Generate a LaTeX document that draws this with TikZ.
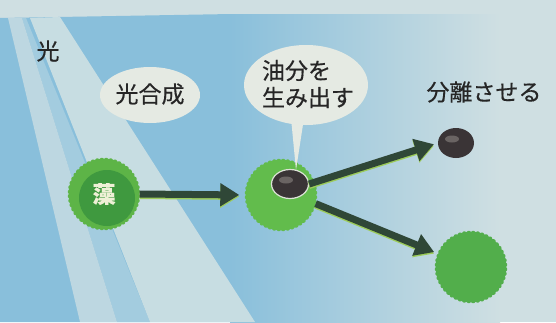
\documentclass[tikz,border=0pt]{standalone}
\usepackage{fontspec}
\newfontfamily\jpfont[FakeBold=0.4]{Noto Sans CJK JP}
\usetikzlibrary{shapes.geometric,arrows.meta}

\definecolor{paper}{HTML}{CFDFE2}
\definecolor{fieldblue}{HTML}{89BFDB}
\definecolor{beamA}{HTML}{BDD7E1}
\definecolor{beamB}{HTML}{C7DDE2}
\definecolor{beamgap}{HTML}{A3CCDF}
\definecolor{bubblefill}{HTML}{E5EAE3}
\definecolor{inkdark}{HTML}{262626}
\definecolor{arrowgreen}{HTML}{2F4737}
\definecolor{arrowlime}{HTML}{9CCB5A}
\definecolor{ringgreen}{HTML}{5DB447}
\definecolor{coregreen}{HTML}{3F993F}
\definecolor{cellgreen}{HTML}{62BC4C}
\definecolor{plaingreen}{HTML}{52AE4B}
\definecolor{oil}{HTML}{3A3436}
\definecolor{oilshine}{HTML}{77716F}
\definecolor{oilrim}{HTML}{DCE3D6}
\definecolor{glyphcream}{HTML}{EEF0D6}

\tikzset{
  jp/.style={font=\jpfont\fontsize{23}{27}\selectfont, text=inkdark, inner sep=0pt},
  bubble/.style={ellipse, fill=bubblefill, inner sep=0pt},
  blob/.style={circle, minimum size=71pt, inner sep=0pt},
  % scalloped disc filled around a blob node
  scallop/.style={shift={(#1.center)}},
  droplet/.style={ellipse, fill=oil, inner sep=0pt,
    path picture={\fill[oilshine, opacity=0.8]
      ([xshift=-4pt,yshift=4pt]path picture bounding box.center) ellipse (7pt and 3.5pt);}},
  flowhead/.style={-{Triangle[width=22pt,length=19pt]}},
  flow/.style={draw=arrowgreen, line width=7pt, flowhead,
    preaction={draw=arrowlime, line width=7pt, flowhead, transform canvas={yshift=-1.5pt}}},
}

\begin{document}
\begin{tikzpicture}[x=1pt,y=-1pt]
  \useasboundingbox (0,0) rectangle (556,322);

  % paper, blue field fading to the right, two pale light beams
  \fill[paper] (0,0) rectangle (556,322);
  \fill[fieldblue] (0,18) -- (232,14) -- (232,322) -- (0,322) -- cycle;
  \shade[left color=fieldblue, right color=paper] (230,14) rectangle (500,322);
  \fill[beamgap] (22,18) -- (26,18) -- (150,322) -- (117,322) -- cycle;
  \fill[beamA] (8,18) -- (22,18) -- (117,322) -- (80,322) -- cycle;
  \fill[beamB] (30,18) -- (60,17) -- (255,322) -- (150,322) -- cycle;

  % labels and speech bubbles
  \node[jp] (light) at (48,51) {光};
  \node[bubble, minimum width=100pt, minimum height=56pt] (photo) at (150,95) {};
  \node[jp] (photolabel) at (150,94) {光合成};
  \node[bubble, minimum width=124pt, minimum height=80pt] (oilbubble) at (306,85) {};
  \node[jp, align=left] (oillabel) at (308,84) {油分を\\生み出す};
  \node[jp] (separate) at (484,92) {分離させる};

  % alga cell
  \node[blob] (alga) at (104,194) {};
  \fill[ringgreen, scallop=alga] plot[domain=0:359.5, samples=360] (\x:{35+1.3*abs(sin(24*\x))});
  \fill[coregreen] (107,198) circle (28);
  \node[jp, font=\jpfont\bfseries\fontsize{23}{27}\selectfont, text=glyphcream] (algalabel) at (104,194) {藻};

  % cell holding oil, the bubble tail pointing at the droplet
  \node[blob] (cell) at (281,195) {};
  \fill[cellgreen, scallop=cell] plot[domain=0:359.5, samples=360] (\x:{35+1.3*abs(sin(24*\x))});
  \fill[bubblefill] (291,118) -- (296,170) -- (304,118) -- cycle;
  \node[droplet, draw=oilrim, line width=1.2pt, minimum width=37pt, minimum height=29pt] (oil) at (290,184) {};

  % separated oil and the remaining cell
  \node[droplet, minimum width=36pt, minimum height=30pt] (oilout) at (456,143) {};
  \node[blob] (cellout) at (471,267) {};
  \fill[plaingreen, scallop=cellout] plot[domain=0:359.5, samples=360] (\x:{35+1.3*abs(sin(24*\x))});

  % flow arrows
  \draw[flow, shorten >=6pt] (alga.east) -- (cell.west);
  \draw[flow, shorten >=4pt] (oil.east) -- (oilout.west);
  \draw[flow, shorten >=4pt] (cell.-14) -- (cellout.158);
\end{tikzpicture}
\end{document}
